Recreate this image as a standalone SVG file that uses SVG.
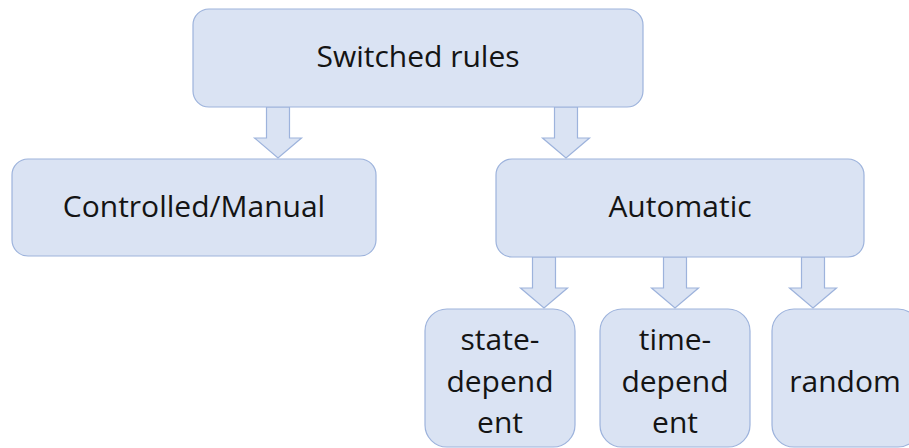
<svg xmlns="http://www.w3.org/2000/svg" width="909" height="448" viewBox="0 0 909 448">
  <style>
    .box { fill: #dae3f3; stroke: #9db3dc; stroke-width: 1.2; }
    .arrow { fill: #dae3f3; stroke: #9db3dc; stroke-width: 1.2; stroke-linejoin: miter; }
    .label { font-family: "Open Sans", "Noto Sans", "Liberation Sans", sans-serif; font-size: 30px; fill: #141414; text-anchor: middle; }
  </style>
  <defs>
    <!-- block arrow pointing down, origin at the top centre of the shaft -->
    <path id="down-arrow" d="M -11.5 0 L 11.5 0 L 11.5 31 L 23.5 31 L 0 51 L -23.5 31 L -11.5 31 Z"/>
  </defs>
  <rect width="909" height="448" fill="#ffffff"/>

  <g id="connectors">
    <use href="#down-arrow" class="arrow" x="278" y="107"/>
    <use href="#down-arrow" class="arrow" x="566" y="107"/>
    <use href="#down-arrow" class="arrow" x="544" y="257"/>
    <use href="#down-arrow" class="arrow" x="675" y="257"/>
    <use href="#down-arrow" class="arrow" x="813" y="257"/>
  </g>

  <g id="switched-rules">
    <rect class="box" x="193" y="9" width="450" height="98" rx="16"/>
    <text class="label" x="418" y="67">Switched rules</text>
  </g>

  <g id="controlled-manual">
    <rect class="box" x="12" y="159" width="364" height="97" rx="16"/>
    <text class="label" x="194" y="217">Controlled/Manual</text>
  </g>

  <g id="automatic">
    <rect class="box" x="496" y="159" width="368" height="98" rx="16"/>
    <text class="label" x="680" y="217">Automatic</text>
  </g>

  <g id="state-dependent">
    <rect class="box" x="425" y="309" width="150" height="138" rx="22"/>
    <text class="label" x="500" y="350">state-</text>
    <text class="label" x="500" y="392">depend</text>
    <text class="label" x="500" y="433">ent</text>
  </g>

  <g id="time-dependent">
    <rect class="box" x="600" y="309" width="150" height="138" rx="22"/>
    <text class="label" x="675" y="350">time-</text>
    <text class="label" x="675" y="392">depend</text>
    <text class="label" x="675" y="433">ent</text>
  </g>

  <g id="random">
    <rect class="box" x="772" y="309" width="148" height="138" rx="22"/>
    <text class="label" x="845" y="392">random</text>
  </g>
</svg>
